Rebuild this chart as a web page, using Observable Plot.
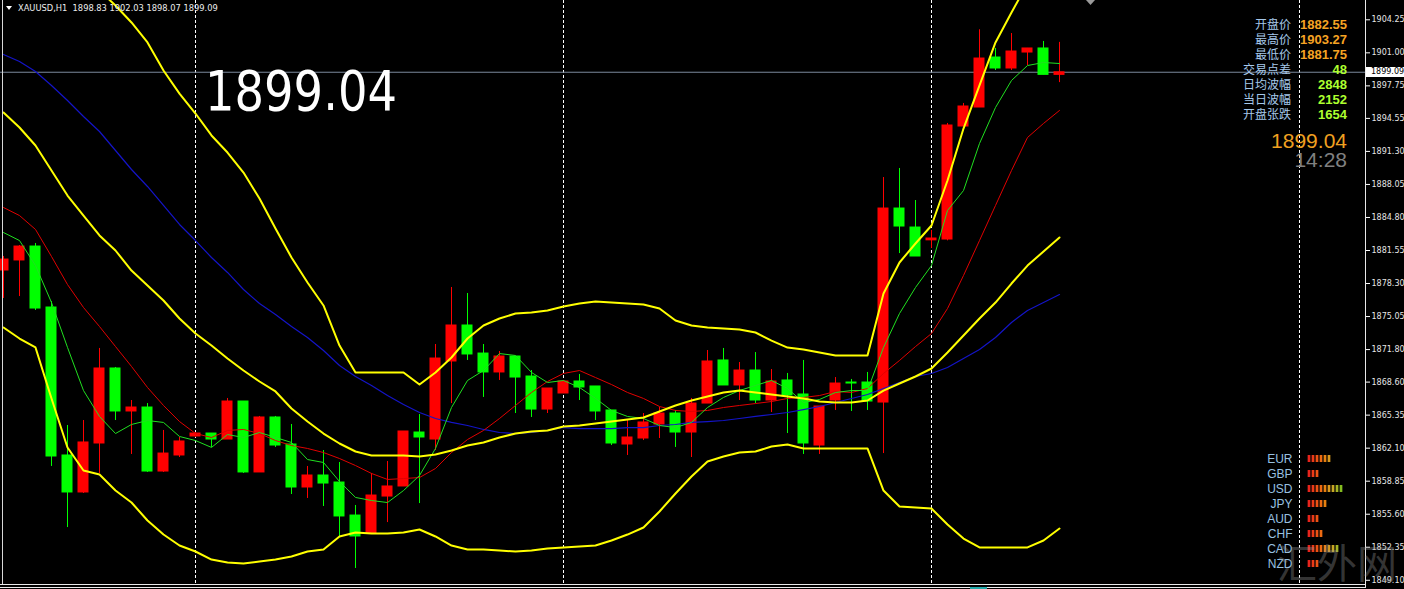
<!DOCTYPE html>
<html><head><meta charset="utf-8">
<script src="https://cdn.jsdelivr.net/npm/d3@7"></script>
<script src="https://cdn.jsdelivr.net/npm/@observablehq/plot@0.6"></script>
<style>
html,body{margin:0;padding:0;background:#000;overflow:hidden;}
#wrap{position:relative;width:1404px;height:589px;background:#000;}
#wrap svg{display:block;}
.abs{position:absolute;}
</style></head><body><div id="wrap"></div>
<script>
// ---------- data (hourly XAUUSD bars) ----------
const barOpen = [1879.58,1880.57,1881.94,1875.94,1861.38,1857.74,1862.56,1869.94,1865.71,1866.10,
1859.80,1861.38,1863.25,1863.54,1862.95,1866.69,1859.71,1865.12,1862.46,1858.23,
1859.41,1858.72,1855.47,1853.70,1857.34,1858.33,1863.64,1862.95,1870.63,1874.17,
1871.41,1869.55,1871.12,1869.15,1865.90,1867.48,1868.66,1868.17,1865.81,1862.46,
1863.05,1864.43,1865.51,1863.64,1866.49,1870.73,1868.27,1869.74,1866.79,1868.76,
1867.38,1862.36,1866.79,1868.56,1868.56,1866.59,1885.68,1883.81,1882.55,1882.63,
1893.75,1895.62,1900.54,1899.46,1901.03,1901.43,1898.83];
const barHigh = [1880.96,1882.04,1882.24,1876.53,1864.33,1864.82,1871.91,1870.04,1866.79,1866.49,
1863.84,1863.15,1863.64,1863.54,1866.99,1866.69,1865.22,1865.22,1864.43,1860.30,
1861.87,1860.69,1856.46,1859.61,1860.79,1863.74,1865.41,1872.30,1877.91,1877.32,
1872.30,1871.61,1871.12,1869.74,1867.97,1868.76,1869.35,1868.17,1865.81,1864.82,
1865.51,1866.10,1865.81,1866.99,1871.71,1871.91,1870.53,1871.51,1869.84,1869.45,
1870.73,1866.20,1869.05,1868.86,1869.55,1888.73,1889.62,1886.47,1883.52,1894.05,
1896.02,1903.27,1901.43,1902.90,1901.43,1902.12,1902.03];
const barLow = [1876.83,1877.02,1875.65,1860.30,1854.29,1857.64,1859.61,1864.82,1861.48,1859.71,
1859.71,1861.18,1863.15,1862.17,1862.95,1859.61,1859.71,1862.17,1857.54,1857.15,
1856.36,1853.31,1850.26,1853.70,1854.78,1858.33,1856.65,1861.87,1866.49,1870.73,
1867.09,1868.76,1865.51,1865.12,1865.51,1867.48,1866.79,1864.82,1862.36,1861.38,
1862.85,1863.05,1862.17,1861.18,1866.49,1868.27,1866.79,1866.49,1865.61,1863.54,
1861.48,1861.48,1865.81,1865.71,1865.81,1861.57,1881.25,1880.96,1881.75,1882.50,
1893.75,1895.62,1899.26,1899.26,1899.75,1898.83,1898.07];
const barClose = [1880.66,1881.94,1875.84,1861.28,1857.74,1862.66,1869.94,1865.71,1866.10,1859.80,
1861.57,1862.76,1863.54,1862.95,1866.69,1859.71,1865.12,1862.36,1858.23,1859.41,
1858.62,1855.38,1853.41,1857.44,1858.33,1863.74,1863.15,1870.92,1874.17,1871.32,
1869.55,1871.12,1869.05,1865.90,1867.97,1868.66,1868.07,1865.71,1862.56,1863.15,
1864.63,1865.51,1863.64,1866.49,1870.63,1868.27,1869.74,1866.79,1868.66,1867.28,
1862.56,1866.20,1868.46,1868.46,1866.69,1885.68,1883.91,1880.96,1882.73,1893.85,
1895.72,1900.44,1899.46,1901.13,1901.43,1898.83,1899.09];

// Bollinger bands (yellow)
const bbUpper = [1916.48,1915.50,1914.02,1912.05,1910.09,1908.61,1907.13,1905.66,1903.99,1902.02,
1899.26,1896.99,1895.03,1892.87,1891.19,1889.22,1886.67,1883.71,1880.86,1878.40,
1876.14,1872.20,1869.55,1869.55,1869.55,1869.55,1868.36,1869.55,1871.02,1872.89,
1874.17,1874.86,1875.35,1875.45,1875.65,1876.04,1876.34,1876.53,1876.43,1876.34,
1876.24,1875.84,1874.66,1874.17,1873.97,1873.88,1873.78,1873.48,1872.69,1872.00,
1871.81,1871.51,1871.22,1871.22,1871.22,1877.32,1880.37,1882.24,1884.01,1888.44,
1893.55,1897.79,1902.02,1904.97,1907.82,1909.89,1911.46];
const bbMiddle = [1895.13,1893.65,1891.88,1889.42,1886.96,1884.99,1883.03,1881.55,1879.58,1878.11,
1876.63,1874.86,1873.38,1872.20,1870.92,1869.74,1868.66,1867.68,1866.00,1864.72,
1863.54,1862.56,1861.77,1861.38,1861.38,1861.38,1861.28,1861.48,1861.87,1862.36,
1862.66,1863.15,1863.54,1863.74,1863.84,1864.23,1864.33,1864.53,1864.72,1864.92,
1865.12,1865.71,1866.30,1866.79,1867.18,1867.58,1867.77,1867.58,1867.38,1867.18,
1866.99,1866.69,1866.59,1866.59,1866.79,1867.77,1868.46,1869.15,1869.94,1871.51,
1873.19,1874.86,1876.43,1878.30,1880.07,1881.45,1882.83];
const bbLower = [1873.97,1872.89,1872.01,1866.99,1862.17,1859.90,1859.51,1857.93,1856.75,1854.98,
1853.60,1852.52,1851.93,1851.14,1850.85,1850.75,1850.95,1851.14,1851.44,1851.93,
1852.13,1853.41,1853.80,1853.70,1853.70,1853.80,1854.10,1853.41,1852.52,1852.13,
1852.13,1852.03,1851.93,1852.03,1852.23,1852.33,1852.42,1852.52,1853.01,1853.60,
1854.29,1855.87,1857.64,1859.31,1860.79,1861.28,1861.67,1861.77,1862.26,1862.46,
1862.07,1862.07,1862.07,1862.07,1862.07,1857.93,1856.36,1856.26,1856.16,1854.59,
1853.21,1852.33,1852.33,1852.33,1852.33,1853.01,1854.19];
// Moving averages
const maFast = [1883.32,1882.53,1880.07,1876.43,1872.01,1867.77,1865.22,1863.54,1864.43,1864.82,
1864.63,1863.25,1862.85,1862.17,1863.44,1863.15,1863.64,1863.15,1862.66,1860.98,
1860.69,1858.82,1857.25,1856.95,1856.75,1857.93,1859.41,1862.07,1866.10,1868.76,
1869.74,1871.41,1871.22,1869.55,1868.56,1868.76,1868.07,1867.00,1865.81,1865.22,
1865.02,1864.33,1864.13,1864.63,1866.10,1867.09,1867.77,1868.27,1868.76,1867.97,
1866.59,1866.89,1867.58,1867.77,1867.77,1872.01,1875.35,1877.91,1880.07,1885.49,
1887.45,1892.08,1895.62,1898.28,1899.75,1900.05,1899.95];
const maMid = [1885.78,1884.99,1883.62,1880.96,1878.20,1875.94,1874.07,1872.10,1870.14,1868.07,
1866.30,1864.72,1863.54,1863.15,1863.84,1863.94,1863.54,1862.85,1862.36,1862.07,
1861.67,1861.08,1860.39,1859.61,1859.02,1859.11,1859.21,1860.10,1861.67,1862.95,
1863.84,1865.02,1866.30,1867.58,1868.66,1869.45,1869.74,1869.05,1868.36,1867.58,
1866.99,1866.20,1865.81,1865.71,1865.81,1866.10,1866.30,1866.49,1866.69,1866.99,
1867.09,1867.28,1867.68,1867.58,1867.97,1869.45,1870.73,1872.10,1873.38,1875.84,
1879.09,1882.53,1885.98,1889.42,1892.67,1894.05,1895.33];
const maLong = [1900.84,1900.15,1899.16,1897.79,1896.31,1894.74,1893.26,1891.39,1889.52,1887.85,
1885.98,1884.11,1882.53,1880.86,1879.39,1877.71,1876.33,1875.25,1874.07,1872.99,
1871.71,1870.23,1869.15,1868.27,1867.28,1866.40,1865.61,1865.02,1864.63,1864.33,
1863.94,1863.64,1863.54,1863.64,1863.84,1864.13,1864.03,1864.03,1864.03,1864.13,
1864.13,1864.33,1864.43,1864.63,1864.72,1864.82,1865.02,1865.22,1865.41,1865.61,
1865.90,1866.20,1866.59,1866.99,1867.38,1867.97,1868.56,1869.15,1869.45,1870.04,
1870.92,1871.81,1872.99,1874.47,1875.65,1876.43,1877.22];

const separatorBars = [12, 35, 58, 81];
const bidPrice = 1899.09;
const yTicks = [1904.25,1901.00,1897.75,1894.55,1891.30,1888.05,1884.80,1881.55,1878.30,
1875.05,1871.80,1868.60,1865.35,1862.10,1858.85,1855.60,1852.35,1849.10];
const headerText = "XAUUSD,H1  1898.83 1902.03 1898.07 1899.09";
const bigPrice = "1899.04";
const infoLabels = ["开盘价","最高价","最低价","交易点差","日均波幅","当日波幅","开盘张跌"];
const infoValues = ["1882.55","1903.27","1881.75","48","2848","2152","1654"];
const infoKinds = ["price","price","price","count","count","count","count"];
const clockPrice = "1899.04";
const clockTime = "14:28";
const currencies = ["EUR","GBP","USD","JPY","AUD","CHF","CAD","NZD"];
const strength = [6,3,9,5,3,4,8,3];
const watermark = "汇外网";

// ---------- styles ----------
const UP = "#ff0000", DOWN = "#00ff00";
const strengthColors = ["#e8241c","#ec3a18","#ee5214","#ec6a12","#e6800f","#d8981e","#c8a826","#a4b424","#84bc20"];

const candles = barOpen.map((o, i) => ({i, o, h: barHigh[i], l: barLow[i], c: barClose[i]}));
const series = arr => arr.map((v, i) => [i, v]);
const colorOf = d => d.c >= d.o ? UP : DOWN;

const chart = Plot.plot({
  width: 1404, height: 589,
  marginLeft: 0, marginRight: 39, marginTop: 0, marginBottom: 4,
  x: {domain: [-0.1875, 85.125], axis: null},
  y: {domain: [1848.586, 1906.15]},
  style: {background: "#000", color: "#e6e6e6", fontFamily: "DejaVu Sans", fontSize: "8px"},
  marks: [
    Plot.ruleX(separatorBars, {stroke: "#ffffff", strokeDasharray: "3,2", strokeWidth: 1}),
    Plot.ruleY([bidPrice], {stroke: "#7c8a9c", strokeWidth: 1}),
    Plot.ruleX(candles, {x: "i", y1: "l", y2: "h", stroke: colorOf, strokeWidth: 1}),
    Plot.rect(candles, {x1: d => d.i - 0.34375, x2: d => d.i + 0.34375, y1: "o", y2: "c",
      fill: colorOf, insetTop: -0.5, insetBottom: -0.5}),
    Plot.line(series(maLong), {stroke: "#1414c8", strokeWidth: 1.2}),
    Plot.line(series(maMid), {stroke: "#e00000", strokeWidth: 1}),
    Plot.line(series(maFast), {stroke: "#20e020", strokeWidth: 1}),
    Plot.line(series(bbUpper), {stroke: "#ffff00", strokeWidth: 2}),
    Plot.line(series(bbMiddle), {stroke: "#ffff00", strokeWidth: 2}),
    Plot.line(series(bbLower), {stroke: "#ffff00", strokeWidth: 2}),
    Plot.axisY(yTicks, {anchor: "right", tickSize: 4, tickPadding: 2, label: null,
      tickFormat: d => d.toFixed(2), stroke: "#ffffff", fill: "#e6e6e6",
      fontFamily: "DejaVu Sans", fontSize: 8})
  ]
});

const wrap = document.getElementById("wrap");
chart.style.position = "absolute"; chart.style.left = "0px"; chart.style.top = "0px";
wrap.appendChild(chart);

// frame lines
function line(l, t, w, h, c) {
  const d = document.createElement("div");
  d.className = "abs";
  Object.assign(d.style, {left: l + "px", top: t + "px", width: w + "px", height: h + "px", background: c});
  wrap.appendChild(d);
}
line(2, 0, 1, 585, "#d8d8d8");
line(1365, 0, 1, 588, "#e8e8e8");
line(0, 584, 1366, 1, "#e8e8e8");
line(0, 587, 1366, 1, "#e8e8e8");
line(970, 587, 17, 2, "#1fa8a8");

// bid price tag on the axis
const ys = chart.scale("y");
const tag = document.createElement("div");
tag.className = "abs";
tag.textContent = bidPrice.toFixed(2);
Object.assign(tag.style, {left: "1366px", top: (ys.apply(bidPrice) - 5) + "px", width: "38px", height: "10px",
  background: "#ffffff", color: "#000", font: "8px 'DejaVu Sans'", lineHeight: "10px", paddingLeft: "5px", boxSizing: "border-box"});
wrap.appendChild(tag);

// currency strength meter (second small plot)
const cells = currencies.flatMap((cur, j) => d3.range(strength[j]).map(i => ({cur, i})));
const meter = Plot.plot({
  width: 99, height: 120,
  marginLeft: 60, marginRight: 0, marginTop: 0, marginBottom: 0,
  x: {type: "band", domain: d3.range(9), padding: 0, axis: null},
  y: {type: "band", domain: currencies, padding: 0},
  style: {background: "transparent", color: "#98c0e0"},
  marks: [
    Plot.cell(cells, {x: "i", y: "cur", fill: d => strengthColors[d.i],
      insetLeft: 0.65, insetRight: 0.65, insetTop: 4, insetBottom: 4}),
    Plot.axisY({anchor: "left", tickSize: 0, tickPadding: 13, label: null,
      fontFamily: "Liberation Sans", fontSize: 12, fill: "#98c0e0"})
  ]
});
meter.style.position = "absolute"; meter.style.left = "1245px"; meter.style.top = "451px";
wrap.appendChild(meter);

// text overlay
const ov = d3.select(wrap).append("svg").attr("class", "abs")
  .attr("width", 1404).attr("height", 589).style("left", "0px").style("top", "0px").style("pointer-events", "none");
ov.append("path").attr("d", "M6,6 L12,6 L9,10 Z").attr("fill", "#ffffff");
ov.append("text").attr("x", 18).attr("y", 11).attr("fill", "#ececec")
  .style("font", "8.3px 'DejaVu Sans'").style("white-space", "pre").text(headerText);
ov.append("text").attr("x", 205).attr("y", 110).attr("fill", "#ffffff")
  .attr("textLength", 192).attr("lengthAdjust", "spacingAndGlyphs")
  .style("font", "55px 'DejaVu Sans'").text(bigPrice);
ov.append("path").attr("d", "M1086,0 L1095,0 L1090.5,5 Z").attr("fill", "#9a9a9a");
infoLabels.forEach((lab, r) => {
  const base = 29 + r * 15;
  ov.append("text").attr("x", 1291).attr("y", base).attr("text-anchor", "end")
    .attr("fill", "#a6c8ea").style("font", "12px 'Noto Sans CJK SC'").text(lab);
  ov.append("text").attr("x", 1347).attr("y", base).attr("text-anchor", "end")
    .attr("fill", infoKinds[r] === "price" ? "#f6a323" : "#adff2f")
    .style("font", "bold 13px 'Liberation Sans'").text(infoValues[r]);
});
ov.append("text").attr("x", 1347).attr("y", 148).attr("text-anchor", "end")
  .attr("fill", "#f0a020").style("font", "21px 'Liberation Sans'").text(clockPrice);
ov.append("text").attr("x", 1347).attr("y", 167).attr("text-anchor", "end")
  .attr("fill", "#808080").style("font", "21px 'Liberation Sans'").text(clockTime);
ov.append("text").attr("x", 1277).attr("y", 578).attr("fill", "#9a9a9a").attr("fill-opacity", 0.35)
  .style("font", "40px 'Noto Sans CJK SC'").text(watermark);
</script></body></html>
